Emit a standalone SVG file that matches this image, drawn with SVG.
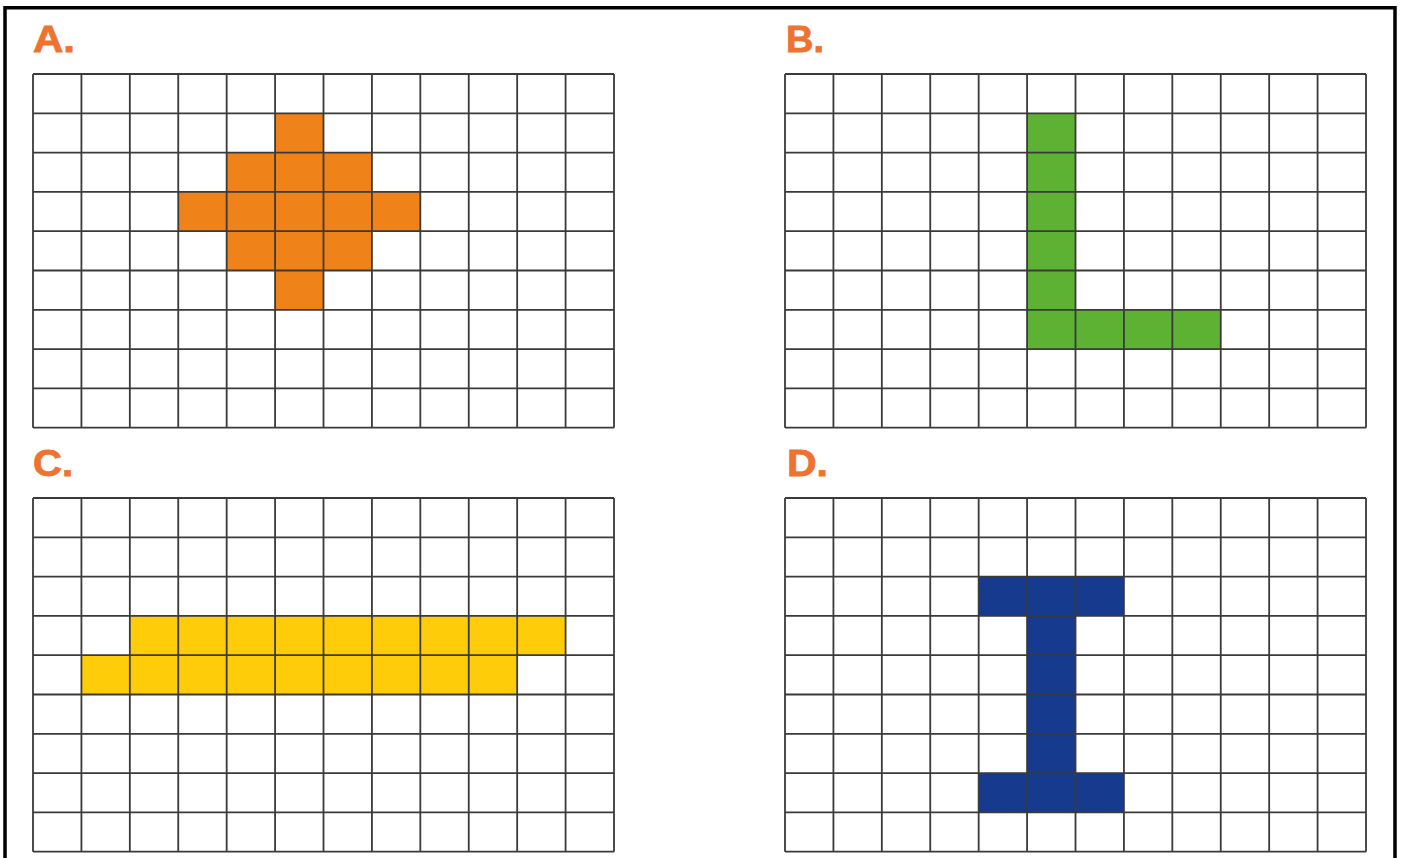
<svg xmlns="http://www.w3.org/2000/svg" xmlns:xlink="http://www.w3.org/1999/xlink" width="1401" height="858" viewBox="0 0 1401 858">
<style>
.lbl{font-family:"Liberation Sans",Arial,sans-serif;font-weight:bold;font-size:36px;fill:#EE7330;stroke:#EE7330;stroke-width:0.8}
.grid{fill:none;stroke:#3a3a3a;stroke-width:1.8}
</style>
<defs>
<path id="grid" class="grid" d="M0,0V353.7M48.42,0V353.7M96.83,0V353.7M145.25,0V353.7M193.67,0V353.7M242.08,0V353.7M290.5,0V353.7M338.92,0V353.7M387.33,0V353.7M435.75,0V353.7M484.17,0V353.7M532.58,0V353.7M581,0V353.7M0,0H581M0,39.3H581M0,78.6H581M0,117.9H581M0,157.2H581M0,196.5H581M0,235.8H581M0,275.1H581M0,314.4H581M0,353.7H581"/>
</defs>
<rect x="0" y="0" width="1401" height="858" fill="#fff"/>
<path d="M5,860V7.7H1395V860" fill="none" stroke="#000" stroke-width="3.5"/>
<g id="panelA">
<text class="lbl" x="33" y="52" textLength="42" lengthAdjust="spacingAndGlyphs">A.</text>
<g transform="translate(33,74)">
<path fill="#F0821A" d="M242.08,39.3H290.5V78.6H338.92V117.9H387.33V157.2H338.92V196.5H290.5V235.8H242.08V196.5H193.67V157.2H145.25V117.9H193.67V78.6H242.08Z"/>
<use xlink:href="#grid"/>
</g>
</g>
<g id="panelB">
<text class="lbl" x="786" y="52" textLength="38" lengthAdjust="spacingAndGlyphs">B.</text>
<g transform="translate(785,74)">
<path fill="#5DB234" d="M242.08,39.3H290.5V235.8H435.75V275.1H242.08Z"/>
<use xlink:href="#grid"/>
</g>
</g>
<g id="panelC">
<text class="lbl" x="33" y="476" textLength="40" lengthAdjust="spacingAndGlyphs">C.</text>
<g transform="translate(33,498)">
<path fill="#FFCC0A" d="M96.83,117.9H532.58V157.2H484.17V196.5H48.42V157.2H96.83Z"/>
<use xlink:href="#grid"/>
</g>
</g>
<g id="panelD">
<text class="lbl" x="787" y="476" textLength="41" lengthAdjust="spacingAndGlyphs">D.</text>
<g transform="translate(785,498)">
<path fill="#163A8E" d="M193.67,78.6H338.92V117.9H290.5V275.1H338.92V314.4H193.67V275.1H242.08V117.9H193.67Z"/>
<use xlink:href="#grid"/>
</g>
</g>
<g id="connectors"/>
</svg>
